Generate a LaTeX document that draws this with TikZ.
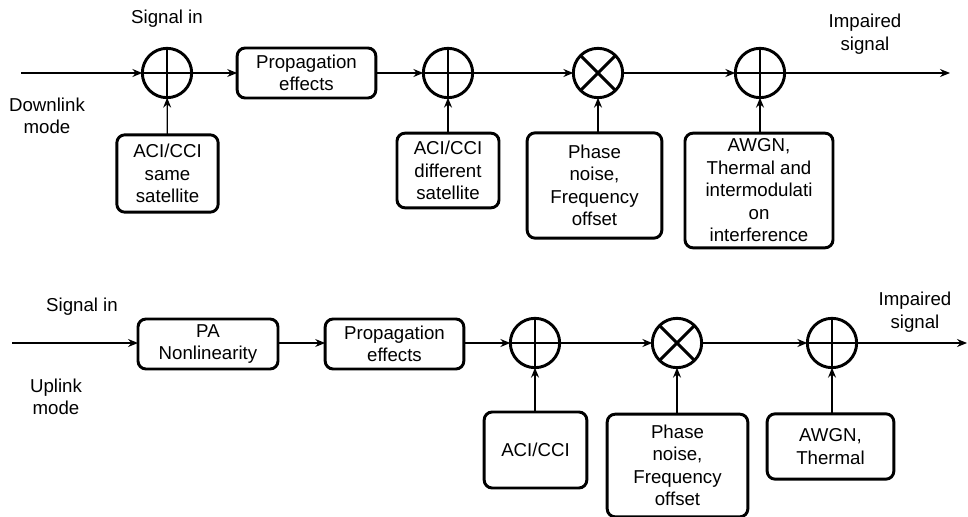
\documentclass[tikz,border=0pt]{standalone}
\usepackage{fontspec}
\setmainfont{Liberation Sans}
\usetikzlibrary{arrows.meta}
\begin{document}
\begin{tikzpicture}[x=0.75pt,y=-0.75pt,
  every node/.style={font=\fontsize{14}{16.9}\selectfont, align=center},
  blockbox/.style={draw, line width=2.2pt, rounded corners=6pt, inner sep=0pt, outer sep=0pt},
  junction/.style={draw, circle, line width=2.2pt, minimum size=37pt, inner sep=0pt, outer sep=0pt},
  mark line/.style={line width=2.2pt},
  flow/.style={line width=0.9pt, -{Stealth[length=7.5pt,width=6pt,inset=2.5pt]}},
  plain/.style={line width=0.9pt}
]
\useasboundingbox (0,0) rectangle (968,517);

% ---------- Downlink chain ----------
\coordinate (in1) at (21,73);
\node[junction] (s1) at (167,73) {};
\node[blockbox, minimum width=104pt, minimum height=37.5pt] (prop1) at (306.5,73) {Propagation\\effects};
\node[junction] (s2) at (448,73) {};
\node[junction] (m1) at (598,73) {};
\node[junction] (s3) at (760,73) {};
\coordinate (out1) at (950,73);

\node[blockbox, minimum width=76pt, minimum height=58pt] (aci1) at (167.5,173.5) {ACI/CCI\\same\\satellite};
\node[blockbox, minimum width=76.5pt, minimum height=56pt] (aci2) at (448,170.5) {ACI/CCI\\different\\satellite};
\node[blockbox, minimum width=101pt, minimum height=79pt] (pn1) at (594.5,185.5) {Phase\\noise,\\Frequency\\offset};
\node[blockbox, minimum width=111pt, minimum height=86pt] (awgn1) at (759,190.5) {AWGN,\\Thermal and\\intermodulati\\on\\interference};

\draw[mark line] (s1.north) -- (s1.south) (s1.west) -- (s1.east);
\draw[mark line] (s2.north) -- (s2.south) (s2.west) -- (s2.east);
\draw[mark line] (m1.north west) -- (m1.south east) (m1.north east) -- (m1.south west);
\draw[mark line] (s3.north) -- (s3.south) (s3.west) -- (s3.east);

\draw[flow] (in1) -- (s1);
\draw[flow] (s1) -- (prop1);
\draw[flow] (prop1) -- (s2);
\draw[flow] (s2) -- (m1);
\draw[flow] (m1) -- (s3);
\draw[flow] (s3) -- (out1);
\draw[flow] (aci1) -- (s1);
\draw[flow] (aci2) -- (s2);
\draw[flow] (pn1.north -| m1) -- (m1);
\draw[flow] (awgn1.north -| s3) -- (s3);

\node (sig1) at (167,19) {Signal in};
\node (dl) at (47,116) {Downlink\\mode};
\node (imp1) at (865,34) {Impaired\\signal};

% ---------- Uplink chain ----------
\coordinate (in2) at (12,343);
\node[blockbox, minimum width=105pt, minimum height=37.5pt] (pa) at (208,344) {PA\\Nonlinearity};
\node[blockbox, minimum width=104pt, minimum height=37.5pt] (prop2) at (394.5,344) {Propagation\\effects};
\node[junction] (s4) at (535,343) {};
\node[junction] (m2) at (677,343) {};
\node[junction] (s5) at (832,343) {};
\coordinate (out2) at (967,343);

\node[blockbox, minimum width=77pt, minimum height=57pt] (aci3) at (535.5,450) {ACI/CCI};
\node[blockbox, minimum width=105.5pt, minimum height=77pt] (pn2) at (677.5,465.5) {Phase\\noise,\\Frequency\\offset};
\node[blockbox, minimum width=95pt, minimum height=49pt] (awgn2) at (830.5,446.5) {AWGN,\\Thermal};

\draw[mark line] (s4.north) -- (s4.south) (s4.west) -- (s4.east);
\draw[mark line] (m2.north west) -- (m2.south east) (m2.north east) -- (m2.south west);
\draw[mark line] (s5.north) -- (s5.south) (s5.west) -- (s5.east);

\draw[flow] (in2) -- (pa.west |- in2);
\draw[flow] (pa.east |- in2) -- (prop2.west |- in2);
\draw[flow] (prop2.east |- in2) -- (s4);
\draw[flow] (s4) -- (m2);
\draw[flow] (m2) -- (s5);
\draw[flow] (s5) -- (out2);
\draw[flow] (aci3.north -| s4) -- (s4);
\draw[flow] (pn2.north -| m2) -- (m2);
\draw[flow] (awgn2.north -| s5) -- (s5);

\node (sig2) at (82,307) {Signal in};
\node (ul) at (56,397) {Uplink\\mode};
\node (imp2) at (915,312) {Impaired\\signal};
\end{tikzpicture}
\end{document}
